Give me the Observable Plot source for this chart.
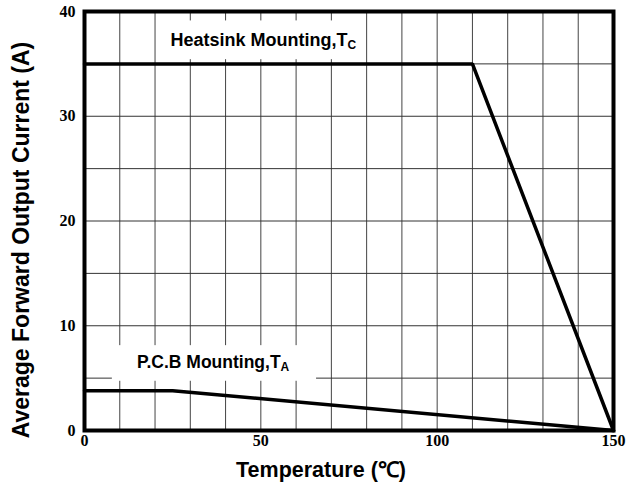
<!DOCTYPE html>
<html>
<head>
<meta charset="utf-8">
<script src="https://cdn.jsdelivr.net/npm/d3@7"></script>
<script src="https://cdn.jsdelivr.net/npm/@observablehq/plot@0.6"></script>
<style>
  html, body { margin: 0; padding: 0; background: #fff; }
</style>
</head>
<body>
<div id="chart"></div>
<script>
// ---- data ----
const heatsinkTemp = [0, 110, 150];
const heatsinkCurrent = [35, 35, 0];
const pcbTemp = [0, 25, 150];
const pcbCurrent = [3.8, 3.8, 0];

const xTicks = [0, 50, 100, 150];
const yTicks = [0, 10, 20, 30, 40];
const xGrid = [10, 20, 30, 40, 50, 60, 70, 80, 90, 100, 110, 120, 130, 140];
const yGrid = [5, 10, 15, 20, 25, 30, 35];

const heatsinkLabel = "Heatsink Mounting,T_C";
const pcbLabel = "P.C.B Mounting,T_A";
const xTitle = "Temperature (℃)";
const yTitle = "Average Forward Output Current (A)";

const heatsink = heatsinkTemp.map((t, i) => ({t, a: heatsinkCurrent[i]}));
const pcb = pcbTemp.map((t, i) => ({t, a: pcbCurrent[i]}));

const sans = "'Liberation Sans', Arial, sans-serif";
const serif = "'Liberation Serif', 'Times New Roman', serif";

const chart = Plot.plot({
  width: 629,
  height: 486,
  marginLeft: 84,
  marginRight: 16,
  marginTop: 11,
  marginBottom: 56,
  style: {background: "#fff", color: "#000"},
  x: {domain: [0, 150]},
  y: {domain: [0, 40]},
  marks: [
    Plot.ruleX(xGrid, {stroke: "#444", strokeWidth: 1}),
    Plot.ruleY(yGrid, {stroke: "#333", strokeWidth: 1}),
    // white label backgrounds
    Plot.rect([heatsinkLabel], {x1: 21.5, x2: 76.5, y1: 35.4, y2: 39.1, fill: "#fff"}),
    Plot.rect([pcbLabel], {x1: 7.9, x2: 65.8, y1: 4.7, y2: 8.1, fill: "#fff"}),
    Plot.line(heatsink, {x: "t", y: "a", stroke: "#000", strokeWidth: 3.5, strokeLinejoin: "miter"}),
    Plot.line(pcb, {x: "t", y: "a", stroke: "#000", strokeWidth: 3.5, strokeLinejoin: "miter"}),
    Plot.frame({stroke: "#000", strokeWidth: 4}),
    Plot.axisX({ticks: xTicks, tickSize: 0, tickPadding: 4, label: null,
      fontFamily: serif, fontSize: 16, fontWeight: "bold"}),
    Plot.axisY({ticks: yTicks, tickSize: 0, tickPadding: 9, label: null,
      fontFamily: serif, fontSize: 16, fontWeight: "bold"}),
    Plot.text([heatsinkLabel], {x: 24.4, y: 37.3, textAnchor: "start", lineAnchor: "middle",
      fontFamily: sans, fontSize: 18, fontWeight: "bold", fill: "#000"}),
    Plot.text([pcbLabel], {x: 14.9, y: 6.5, textAnchor: "start", lineAnchor: "middle",
      fontFamily: sans, fontSize: 17.5, fontWeight: "bold", fill: "#000"}),
    Plot.text([xTitle], {frameAnchor: "bottom", dx: -28, dy: 40, textAnchor: "middle", lineAnchor: "middle",
      fontFamily: sans, fontSize: 21.5, fontWeight: "bold", fill: "#000"}),
    Plot.text([yTitle], {frameAnchor: "left", dx: -63, dy: 19, rotate: -90, textAnchor: "middle", lineAnchor: "middle",
      fontFamily: sans, fontSize: 23, fontWeight: "bold", fill: "#000"})
  ]
});

// render subscripts (e.g. "T_C")
d3.select(chart).selectAll("text").each(function () {
  const el = this;
  const txt = el.textContent;
  if (txt.includes("_")) {
    const [main, sub] = txt.split("_");
    const sel = d3.select(el);
    sel.text(null);
    sel.append("tspan").text(main);
    sel.append("tspan").attr("font-size", 12).attr("dy", 3).text(sub);
  }
});

document.getElementById("chart").appendChild(chart);
</script>
</body>
</html>
